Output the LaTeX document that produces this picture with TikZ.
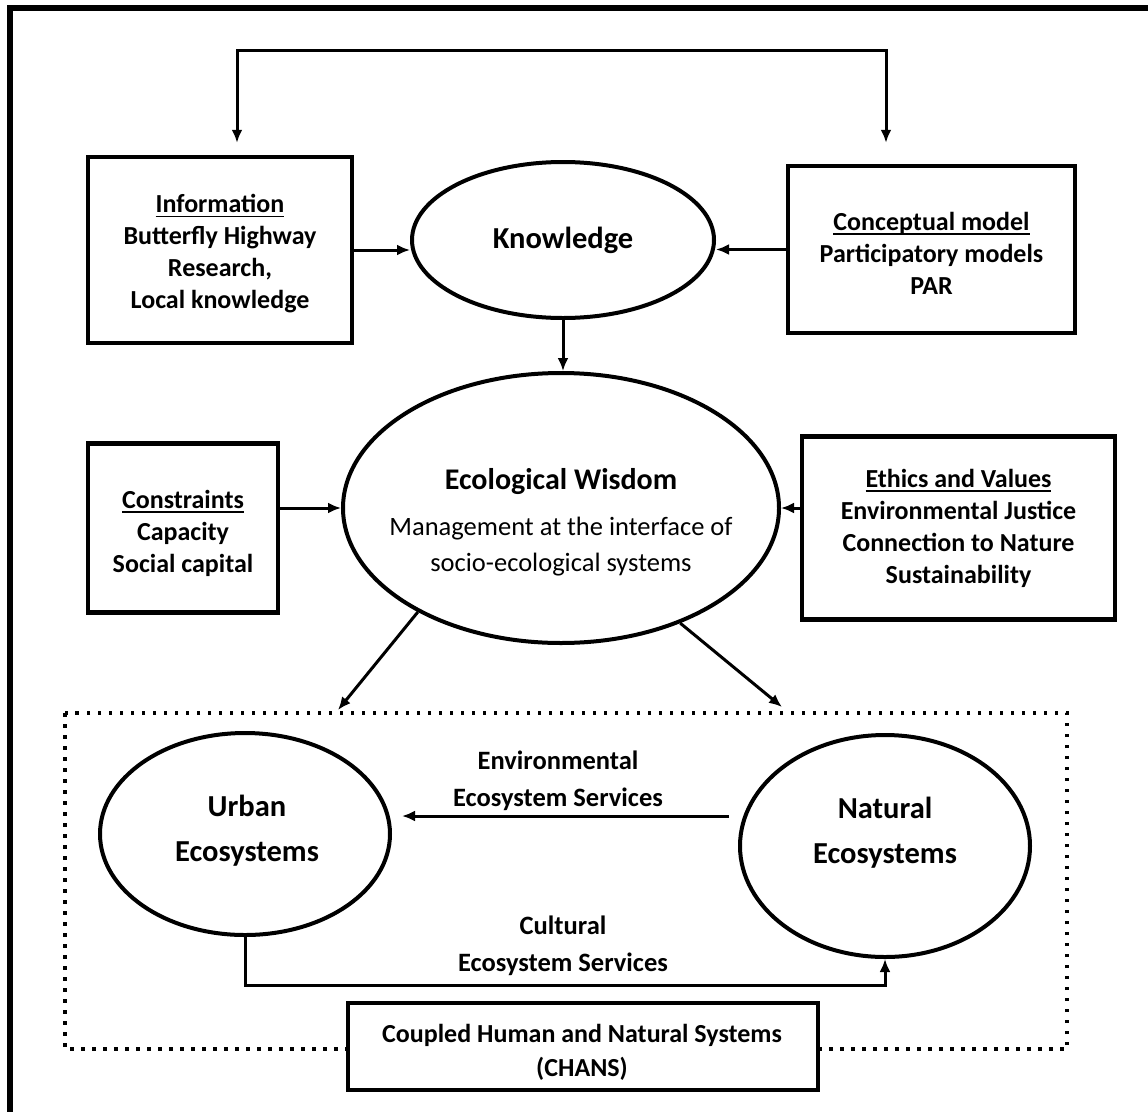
\documentclass[tikz,border=0pt]{standalone}
\usepackage{fontspec}
\setmainfont{Carlito}
\usetikzlibrary{arrows.meta,calc,shapes.geometric}

% underlined heading with a heavier rule
\newcommand\headline[1]{\setbox0\hbox{#1}\rlap{\rule[-4.5pt]{\wd0}{1.7pt}}\box0}

\tikzset{
  box/.style={draw, line width=4.5pt, align=center, inner sep=0pt,
    font=\bfseries\fontsize{26}{32}\selectfont},
  ell/.style={draw, ellipse, line width=4pt, inner sep=0pt},
  elltext/.style={align=center, font=\bfseries\fontsize{30.5}{45}\selectfont},
  arr/.style={line width=3pt, -{Latex[length=13pt,width=11pt]}},
  lbl/.style={align=center, font=\bfseries\fontsize{26.5}{37}\selectfont},
}

\begin{document}
\begin{tikzpicture}[x=1pt,y=-1pt]
\useasboundingbox (0,0) rectangle (1148,1111);
\clip (0,0) rectangle (1148,1111);

% outer frame
\draw[line width=6pt] (10,8) rectangle (1170,1130);

% top row
\node[box, minimum width=264pt, minimum height=186pt] (info) at (220,250) {};
\node[align=center, font=\bfseries\fontsize{26}{32}\selectfont] (infotext) at (220,254)
  {\headline{Information}\\Butterfly Highway\\Research,\\ Local knowledge};
\node[ell, minimum width=302pt, minimum height=156pt] (know) at (563,240) {};
\node[elltext] (knowtext) at (know.center) {Knowledge};
\node[box, minimum width=287pt, minimum height=167pt] (concept) at (931.5,249.5) {};
\node[align=center, font=\bfseries\fontsize{26}{32}\selectfont] (concepttext) at (931.5,253)
  {\headline{Conceptual model}\\Participatory models\\PAR};

% middle row
\node[ell, minimum width=436pt, minimum height=270pt] (ew) at (561,508) {};
\node[align=center, font=\fontsize{26.5}{36}\selectfont] (ewtext) at (561,522)
  {{\bfseries\fontsize{30}{36}\selectfont Ecological Wisdom}\\[10pt]
   Management at the interface of\\socio-ecological systems};
\node[box, minimum width=190pt, minimum height=169pt] (cons) at (183,528) {};
\node[align=center, font=\bfseries\fontsize{26}{32}\selectfont] (constext) at (183,533)
  {\headline{Constraints}\\Capacity\\Social capital};
\node[box, minimum width=313pt, minimum height=183pt] (ethics) at (958.5,528)
  {\headline{Ethics and Values}\\Environmental Justice\\Connection to Nature\\Sustainability};

% coupled systems frame
\draw[line width=3.5pt, dash pattern=on 3.5pt off 7.5pt] (65,713) rectangle (1067,1049);
\node[ell, minimum width=290pt, minimum height=202pt] (urb) at (245,834) {};
\node[elltext] (urbtext) at (247,831) {Urban\\Ecosystems};
\node[ell, minimum width=290pt, minimum height=222pt] (nat) at (885,846) {};
\node[elltext] (nattext) at (885,833) {Natural\\Ecosystems};
\node[box, fill=white, line width=4pt, minimum width=470pt, minimum height=87pt]
  (chans) at (583,1046.5) {};
\node[align=center, font=\fontsize{26}{34}\selectfont\bfseries] (chanstext) at (582,1052)
  {Coupled Human and Natural Systems\\(CHANS)};

\node[lbl] (envlbl) at (558,781) {Environmental\\Ecosystem Services};
\node[lbl] (cultlbl) at (563,946) {Cultural\\Ecosystem Services};

% connectors
\coordinate (tl) at (237,50);
\coordinate (tr) at (886,50);
\draw[line width=3pt, {Latex[length=13pt,width=11pt]}-{Latex[length=13pt,width=11pt]},
  shorten <=12pt, shorten >=21pt]
  (info.north -| tl) -- (tl) -- (tr) -- (concept.north -| tr);
\draw[arr] (info.east) -- (info.east -| know.west);
\draw[arr] (concept.west) -- (concept.west -| know.east);
\draw[arr] (know.south) -- (know.south |- ew.north);
\draw[arr] (cons.east |- ew.west) -- (ew.west);
\draw[arr] (ethics.west |- ew.east) -- (ew.east);

\coordinate (dl) at (338,710);
\coordinate (dr) at (782,707);
\draw[arr] (ew.216) -- (dl);
\draw[arr] (ew.316) -- (dr);

\coordinate (envs) at (729,816);
\coordinate (enve) at (402,816);
\draw[arr] (envs) -- (enve);

\coordinate (cb) at (0,985);
\draw[arr] (urb.south) -- (urb.south |- cb) -| (nat.south);
\end{tikzpicture}
\end{document}
